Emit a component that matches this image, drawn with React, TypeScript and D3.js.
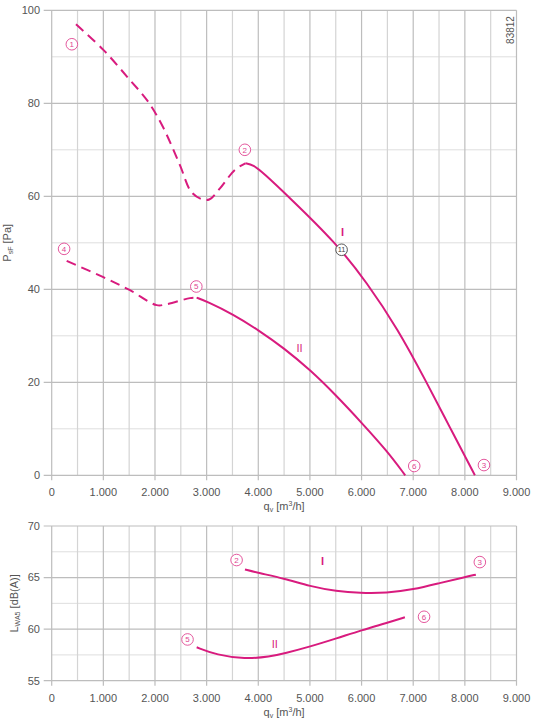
import React from "react";
import * as d3 from "d3";

// Flow rate tick labels (m³/h)
const flowTicks = [0, 1000, 2000, 3000, 4000, 5000, 6000, 7000, 8000, 9000];
const pressureTicks = [0, 20, 40, 60, 80, 100];
const soundTicks = [55, 60, 65, 70];

// Pressure curve I: [flow, pressure]
const pressureIDashed: [number, number][] = [
  [470, 97.0], [1000, 91.5], [1500, 85.2], [1870, 80.3], [2150, 75.0], [2483, 66.7],
  [2700, 61.0], [2900, 59.4], [3050, 59.3], [3258, 61.7], [3548, 65.7], [3750, 67.1],
];
const pressureISolid: [number, number][] = [
  [3750, 67.1], [3900, 66.8], [4100, 65.0], [4580, 60.0], [5503, 50.0], [6100, 41.5],
  [6700, 31.5], [7259, 20.0], [7710, 10.3], [8194, 0],
];

// Pressure curve II: [flow, pressure]
const pressureIIDashed: [number, number][] = [
  [290, 46.1], [1000, 42.6], [1516, 39.8], [2032, 36.6], [2226, 36.8], [2677, 38.1], [2806, 38.2],
];
const pressureIISolid: [number, number][] = [
  [2806, 38.2], [3000, 37.4], [3516, 34.6], [4006, 31.2], [4502, 27.3], [5000, 22.7],
  [5497, 17.3], [6001, 11.3], [6496, 5.2], [6845, 0],
];

// Sound power curves: [flow, dB(A)]
const soundI: [number, number][] = [
  [3742, 65.78], [4000, 65.45], [4516, 64.9], [5000, 64.15], [5517, 63.67], [5968, 63.5],
  [6485, 63.5], [7000, 63.83], [7516, 64.47], [8000, 65.05], [8213, 65.28],
];
const soundII: [number, number][] = [
  [2807, 58.24], [3194, 57.49], [3742, 57.1], [4226, 57.33], [4516, 57.66], [5000, 58.3],
  [5517, 59.1], [6001, 59.9], [6485, 60.6], [6839, 61.15],
];

// Operating point markers: [label, flow, value]
const pressureMarkers: [string, number, number][] = [
  ["1", 390, 92.7], ["2", 3740, 70.0], ["3", 8370, 2.2], ["4", 240, 48.7],
  ["5", 2800, 40.6], ["6", 7020, 2.0],
];
const soundMarkers: [string, number, number][] = [
  ["2", 3580, 66.7], ["3", 8290, 66.5], ["5", 2630, 59.0], ["6", 7210, 61.2],
];

const MAGENTA = "#d81b7e";
const MARK = "#e04592";
const TEXT = "#555";
const FONT = "'Liberation Sans', Arial, sans-serif";

const x = d3.scaleLinear().domain([0, 9000]).range([51.7, 516.5]);
const yTop = d3.scaleLinear().domain([0, 100]).range([475.3, 10.3]);
const yBot = d3.scaleLinear().domain([55, 70]).range([680.7, 526]);

const fmt = d3
  .formatLocale({ decimal: ",", thousands: ".", grouping: [3], currency: ["", ""] })
  .format(",");

function Grid({ y, yMajor, yMinor }: { y: d3.ScaleLinear<number, number>; yMajor: number[]; yMinor: number[] }) {
  const [x0, x1] = x.range();
  const [yb, yt] = y.range();
  const xs = d3.range(0, 9001, 500);
  return (
    <g>
      {yMinor.map((v) => (
        <line key={"hm" + v} x1={x0} x2={x1} y1={y(v)} y2={y(v)} stroke="#dedede" strokeWidth={1} />
      ))}
      {xs.map((v) => (
        <line key={"v" + v} x1={x(v)} x2={x(v)} y1={yt} y2={yb + (v % 1000 === 0 ? 5 : 0)}
          stroke={v % 1000 === 0 ? "#bdbdbd" : "#d4d4d4"} strokeWidth={1.2} />
      ))}
      {yMajor.map((v) => (
        <line key={"h" + v} x1={x0 - 8} x2={x1} y1={y(v)} y2={y(v)} stroke="#bdbdbd" strokeWidth={1.2} />
      ))}
      {yMajor.map((v) => (
        <text key={"t" + v} x={40} y={y(v)} dy="0.35em" textAnchor="end" fontSize={11} fill={TEXT}>
          {v}
        </text>
      ))}
      {flowTicks.map((v) => (
        <text key={"xt" + v} x={x(v)} y={yb + 21} textAnchor="middle" fontSize={11} fill={TEXT}>
          {fmt(v)}
        </text>
      ))}
      <text x={(x0 + x1) / 2} y={yb + 35} textAnchor="middle" fontSize={11} fill={TEXT}>
        q<tspan dy={2} fontSize={7}>v</tspan>
        <tspan dy={-2}> [m</tspan>
        <tspan dy={-4} fontSize={7}>3</tspan>
        <tspan dy={4}>/h]</tspan>
      </text>
    </g>
  );
}

function Marker({ label, cx, cy, color }: { label: string; cx: number; cy: number; color: string }) {
  return (
    <g>
      <circle cx={cx} cy={cy} r={5.8} fill="white" stroke={color} strokeWidth={0.9} />
      <text x={cx} y={cy} dy="0.35em" textAnchor="middle" fontSize={label.length > 1 ? 7.5 : 8} fill={color}>
        {label}
      </text>
    </g>
  );
}

export default function App() {
  const rom = d3.curveCatmullRom.alpha(0.5);
  const dashedTop = d3.line<[number, number]>().x((d) => x(d[0])).y((d) => yTop(d[1])).curve(rom);
  const solidTop = d3.line<[number, number]>().x((d) => x(d[0])).y((d) => yTop(d[1])).curve(d3.curveBasis);
  const solidBot = d3.line<[number, number]>().x((d) => x(d[0])).y((d) => yBot(d[1])).curve(d3.curveBasis);
  const curveStyle = { fill: "none", stroke: MAGENTA, strokeWidth: 2 };

  return (
    <svg width={534} height={723} style={{ position: "absolute", left: 0, top: 0, background: "white" }} fontFamily={FONT}>
      <rect width={534} height={723} fill="white" />
      <Grid y={yTop} yMajor={pressureTicks} yMinor={d3.range(10, 100, 20)} />
      <Grid y={yBot} yMajor={soundTicks} yMinor={[57.5, 62.5, 67.5]} />

      <text transform={`translate(11,${(yTop(0) + yTop(100)) / 2}) rotate(-90)`} textAnchor="middle" fontSize={11} fill={TEXT}>
        P<tspan dy={2} fontSize={7}>sF</tspan>
        <tspan dy={-2}> [Pa]</tspan>
      </text>
      <text transform={`translate(18,${(yBot(55) + yBot(70)) / 2}) rotate(-90)`} textAnchor="middle" fontSize={11} fill={TEXT}>
        L<tspan dy={2} fontSize={7}>WA5</tspan>
        <tspan dy={-2}> [dB(A)]</tspan>
      </text>
      <text transform="translate(514,30) rotate(-90)" textAnchor="middle" fontSize={10} fill={TEXT}>
        83812
      </text>

      {/* pressure curves */}
      <path d={dashedTop(pressureIDashed) ?? ""} {...curveStyle} strokeDasharray="10,6" />
      <path d={solidTop(pressureISolid) ?? ""} {...curveStyle} />
      <path d={dashedTop(pressureIIDashed) ?? ""} {...curveStyle} strokeDasharray="10,6" />
      <path d={solidTop(pressureIISolid) ?? ""} {...curveStyle} />

      {/* sound power curves */}
      <path d={solidBot(soundI) ?? ""} {...curveStyle} />
      <path d={solidBot(soundII) ?? ""} {...curveStyle} />

      {pressureMarkers.map(([l, v, p]) => (
        <Marker key={"pm" + l} label={l} cx={x(v)} cy={yTop(p)} color={MARK} />
      ))}
      <Marker label="11" cx={x(5613)} cy={yTop(48.5)} color="#444" />
      {soundMarkers.map(([l, v, p]) => (
        <Marker key={"sm" + l} label={l} cx={x(v)} cy={yBot(p)} color={MARK} />
      ))}

      <text x={x(5630)} y={yTop(52.3)} dy="0.35em" textAnchor="middle" fontSize={11} fontWeight="bold" fill={MAGENTA}>I</text>
      <text x={x(4800)} y={yTop(27.4)} dy="0.35em" textAnchor="middle" fontSize={11} fill={MAGENTA}>II</text>
      <text x={x(5245)} y={yBot(66.6)} dy="0.35em" textAnchor="middle" fontSize={11} fontWeight="bold" fill={MAGENTA}>I</text>
      <text x={x(4320)} y={yBot(58.5)} dy="0.35em" textAnchor="middle" fontSize={11} fill={MAGENTA}>II</text>
    </svg>
  );
}
